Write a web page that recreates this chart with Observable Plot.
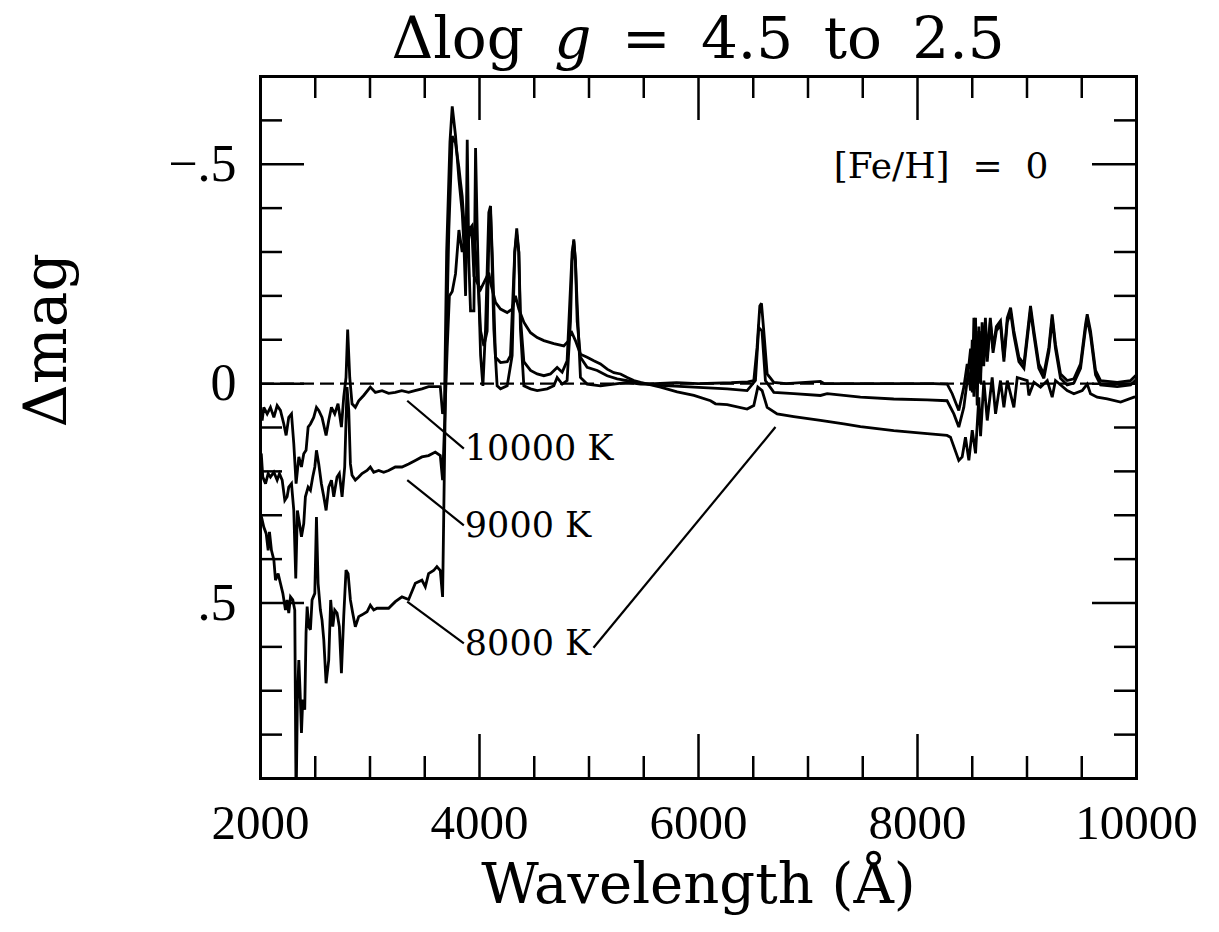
<!DOCTYPE html>
<html><head><meta charset="utf-8">
<script src="https://cdn.jsdelivr.net/npm/d3@7"></script>
<script src="https://cdn.jsdelivr.net/npm/@observablehq/plot@0.6"></script>
<style>
body{margin:0;background:#fff;}
#title{height:57px;padding-top:9px;width:876px;margin-left:260px;text-align:center;font-family:"DejaVu Serif";font-size:58px;line-height:58px;word-spacing:12px;white-space:nowrap;color:#000;}
svg text{white-space:pre;}
</style></head><body>
<div id="title">Δlog <i>g</i> = 4.5 to 2.5</div>
<div id="chart"></div>
<script>
// [wavelength (Å), Δmag]
const t10000 = [[2000,.07],[2015,.084],[2030,.054],[2061,.069],[2091,.054],[2122,.077],[2152,.050],[2182,.061],[2213,.092],[2234,.118],[2258,.077],[2283,.069],[2304,.137],[2325,.228],[2350,.167],[2374,.190],[2395,.160],[2416,.152],[2435,.099],[2456,.092],[2486,.077],[2511,.054],[2532,.061],[2562,.077],[2599,.118],[2623,.084],[2648,.054],[2678,.069],[2708,.046],[2739,.099],[2760,.031],[2781,-.014],[2796,-.123],[2815,-.014],[2836,.046],[2866,.054],[2897,.039],[2942,.027],[3003,.008],[3049,.020],[3110,.016],[3170,.022],[3231,.020],[3290,.016],[3353,.020],[3410,.016],[3474,.012],[3535,.007],[3600,.007],[3642,.007],[3663,.069],[3680,.05],[3700,-.30],[3730,-.55],[3751,-.632],[3781,-.565],[3812,-.466],[3842,-.39],[3858,-.314],[3873,-.20],[3888,-.556],[3903,-.276],[3918,-.166],[3949,-.166],[3964,-.537],[3979,-.352],[3994,-.20],[4010,-.064],[4031,.005],[4055,-.124],[4085,-.39],[4101,-.405],[4131,-.124],[4161,.005],[4192,.012],[4253,.005],[4298,-.064],[4322,-.30],[4340,-.354],[4359,-.30],[4374,-.124],[4405,.005],[4466,.012],[4527,.016],[4618,.012],[4679,.005],[4709,-.014],[4755,.001],[4800,-.007],[4831,-.143],[4846,-.28],[4861,-.329],[4876,-.28],[4892,-.18],[4922,-.014],[4983,.001],[5105,.005],[5227,.001],[5349,-.003],[5470,.001],[5600,.000],[5800,-.002],[6000,.000],[6300,-.002],[6450,-.004],[6505,-.007],[6535,-.083],[6560,-.177],[6575,-.183],[6596,-.12],[6627,-.022],[6688,-.003],[6800,.000],[7114,-.005],[7150,.000],[7500,.000],[8000,.000],[8150,.000],[8271,.001],[8317,.023],[8377,.061],[8423,.008],[8454,-.045],[8485,.016],[8500,-.10],[8515,.03],[8530,-.15],[8545,.05],[8560,-.12],[8576,.0],[8590,-.14],[8605,-.05],[8620,-.15],[8637,-.06],[8665,-.15],[8690,-.08],[8720,-.13],[8758,-.143],[8789,-.06],[8820,-.15],[8850,-.173],[8880,-.12],[8926,-.06],[8972,-.045],[9032,-.177],[9063,-.12],[9108,-.045],[9154,-.022],[9200,-.083],[9230,-.158],[9260,-.09],[9306,-.022],[9367,-.007],[9428,-.011],[9489,-.045],[9535,-.136],[9550,-.158],[9580,-.12],[9626,-.03],[9672,-.007],[9824,-.003],[9946,-.007],[10000,-.02]];

const t9000 = [[2000,.17],[2009,.167],[2021,.213],[2046,.228],[2070,.205],[2091,.213],[2122,.202],[2152,.220],[2173,.205],[2198,.220],[2222,.266],[2243,.258],[2258,.236],[2283,.228],[2304,.289],[2322,.444],[2337,.289],[2356,.319],[2374,.349],[2395,.319],[2410,.258],[2435,.236],[2456,.243],[2477,.213],[2496,.190],[2511,.152],[2532,.183],[2556,.228],[2578,.258],[2599,.289],[2623,.236],[2648,.220],[2669,.258],[2699,.213],[2720,.205],[2745,.258],[2769,.190],[2790,.008],[2806,.061],[2821,.183],[2836,.209],[2866,.220],[2897,.213],[2927,.205],[2973,.198],[3003,.190],[3034,.202],[3079,.198],[3125,.202],[3170,.198],[3231,.190],[3292,.190],[3353,.183],[3414,.175],[3474,.167],[3535,.164],[3596,.156],[3642,.164],[3663,.220],[3680,.10],[3705,-.08],[3725,-.20],[3751,-.21],[3781,-.25],[3812,-.35],[3842,-.30],[3873,-.336],[3903,-.35],[3933,-.36],[3964,-.30],[3994,-.20],[4010,-.12],[4040,-.086],[4070,-.12],[4085,-.33],[4101,-.39],[4116,-.30],[4146,-.06],[4192,-.048],[4253,-.05],[4283,-.064],[4322,-.30],[4340,-.34],[4359,-.30],[4374,-.15],[4405,-.05],[4420,-.045],[4466,-.03],[4527,-.022],[4588,-.018],[4648,-.022],[4709,-.037],[4755,-.026],[4800,-.052],[4831,-.22],[4846,-.30],[4861,-.325],[4876,-.28],[4892,-.142],[4922,-.06],[4983,-.037],[5075,-.03],[5166,-.018],[5257,-.011],[5349,-.007],[5470,.000],[5653,.004],[5958,.008],[6262,.012],[6444,.016],[6520,-.007],[6550,-.128],[6580,-.12],[6611,-.007],[6688,.020],[6870,.023],[7114,.027],[7175,.023],[7479,.031],[7783,.035],[8088,.037],[8270,.039],[8332,.069],[8377,.099],[8423,.054],[8454,-.007],[8485,-.08],[8500,.02],[8515,-.15],[8545,.0],[8560,-.13],[8576,-.02],[8590,-.12],[8605,-.04],[8620,-.14],[8637,-.05],[8665,-.14],[8690,-.07],[8720,-.12],[8758,-.135],[8789,-.05],[8820,-.14],[8850,-.163],[8880,-.11],[8926,-.05],[8972,-.035],[9032,-.167],[9063,-.11],[9108,-.035],[9154,-.012],[9200,-.073],[9230,-.148],[9260,-.08],[9306,-.012],[9367,.003],[9428,-.001],[9489,-.035],[9535,-.126],[9550,-.148],[9580,-.11],[9626,-.02],[9672,.003],[9824,.007],[9946,.003],[10000,-.01]];

const t8000 = [[2000,.30],[2009,.304],[2030,.327],[2052,.342],[2070,.380],[2082,.338],[2100,.380],[2122,.402],[2137,.448],[2161,.433],[2182,.455],[2204,.478],[2228,.516],[2243,.493],[2258,.523],[2274,.486],[2295,.493],[2313,.516],[2325,.96],[2337,.720],[2350,.630],[2362,.705],[2374,.796],[2386,.720],[2404,.743],[2416,.568],[2426,.508],[2441,.554],[2456,.561],[2471,.493],[2496,.478],[2511,.304],[2526,.455],[2547,.516],[2562,.539],[2578,.584],[2599,.683],[2623,.630],[2641,.493],[2660,.554],[2678,.516],[2699,.523],[2720,.554],[2739,.660],[2760,.531],[2781,.425],[2800,.433],[2821,.493],[2842,.523],[2866,.554],[2897,.531],[2927,.527],[2973,.520],[3003,.505],[3034,.516],[3064,.512],[3125,.512],[3170,.512],[3231,.497],[3292,.486],[3353,.492],[3414,.455],[3474,.448],[3505,.463],[3535,.433],[3581,.426],[3611,.417],[3642,.426],[3663,.486],[3690,.0],[3720,-.35],[3751,-.564],[3781,-.548],[3812,-.492],[3827,-.458],[3842,-.427],[3858,-.367],[3873,-.329],[3888,-.306],[3918,-.359],[3933,-.336],[3949,-.245],[3979,-.23],[4010,-.215],[4040,-.23],[4085,-.253],[4101,-.23],[4146,-.185],[4192,-.17],[4253,-.162],[4298,-.17],[4328,-.20],[4359,-.17],[4405,-.14],[4435,-.128],[4466,-.116],[4527,-.105],[4588,-.098],[4679,-.091],[4770,-.086],[4815,-.098],[4837,-.12],[4876,-.098],[4922,-.067],[4983,-.06],[5044,-.052],[5105,-.045],[5166,-.033],[5227,-.025],[5288,-.022],[5349,-.014],[5410,-.007],[5470,-.003],[5653,.008],[5805,.019],[5958,.027],[6110,.039],[6155,.046],[6262,.048],[6444,.058],[6505,.050],[6542,.008],[6581,.016],[6627,.054],[6718,.069],[6870,.075],[7114,.084],[7327,.092],[7479,.098],[7783,.107],[8088,.114],[8270,.118],[8301,.122],[8377,.175],[8408,.167],[8438,.122],[8469,.175],[8500,.106],[8530,.159],[8560,.031],[8576,.12],[8606,-.007],[8637,.084],[8682,-.014],[8713,.069],[8758,-.007],[8789,.054],[8820,-.007],[8880,.054],[8911,-.014],[9002,-.007],[9017,.027],[9063,-.003],[9124,.008],[9185,-.007],[9230,.031],[9260,-.007],[9367,.016],[9428,.023],[9504,.016],[9550,.001],[9580,.023],[9641,.031],[9733,.035],[9855,.042],[9977,.031],[10000,.03]];

// curve labels and leader lines (wavelength, Δmag)
const labelNames = ["10000 K", "9000 K", "8000 K"];
const labelWl = [3857, 3857, 3857];
const labelMag = [0.148, 0.323, 0.592];
const leaders = [[3340,0.039,3857,0.148],[3340,0.220,3857,0.323],[3340,0.497,3857,0.592],[5041,0.602,6703,0.099]];

const xTickLabels = [2000, 4000, 6000, 8000, 10000];
const xMinorTicks = [2500, 3000, 3500, 4500, 5000, 5500, 6500, 7000, 7500, 8500, 9000, 9500];
const yTickValues = [-0.5, 0, 0.5];
const yTickLabels = ["\u2212.5", "0", ".5"];
const yMinorTicks = [-0.6,-0.4,-0.3,-0.2,-0.1,0.1,0.2,0.3,0.4,0.6,0.7,0.8];
const metallicity = "[Fe/H]  =  0";

const toRows = arr => arr.map(([wl, mag]) => ({wl, mag}));
const labels = labelNames.map((name, i) => ({name, wl: labelWl[i], mag: labelMag[i]}));
const leaderRows = leaders.map(([x1,y1,x2,y2]) => ({x1,y1,x2,y2}));

const lineStyle = {x: "wl", y: "mag", stroke: "#000", strokeWidth: 2.8, strokeLinejoin: "miter", strokeMiterlimit: 3, clip: true, curve: "linear"};
const tk = {stroke: "#000", strokeWidth: 2.5};
const FW = 876, FH = 702;

const plot = Plot.plot({
  width: 1219, height: 866,
  marginTop: 10, marginBottom: 154, marginLeft: 260, marginRight: 83,
  x: {domain: [2000, 10000], axis: null},
  y: {domain: [-0.7, 0.9], reverse: true, axis: null},
  style: {background: "#fff", color: "#000"},
  marks: [
    Plot.ruleY([0], {stroke: "#000", strokeWidth: 2.4, strokeDasharray: "14,6"}),
    Plot.line(toRows(t10000), lineStyle),
    Plot.line(toRows(t9000), lineStyle),
    Plot.line(toRows(t8000), lineStyle),
    Plot.link(leaderRows, {x1: "x1", y1: "y1", x2: "x2", y2: "y2", stroke: "#000", strokeWidth: 2.2}),
    Plot.text(labels, {x: "wl", y: "mag", text: "name", textAnchor: "start", lineAnchor: "middle", dx: 1, fontSize: 35, fontFamily: "DejaVu Serif", fill: "#000"}),
    Plot.text([metallicity], {frameAnchor: "top-right", dx: -88, dy: 90, textAnchor: "end", lineAnchor: "middle", fontSize: 36, fontFamily: "DejaVu Serif", fill: "#000"}),
    // ticks (inward, on all four sides)
    Plot.ruleX(xMinorTicks, {...tk, insetTop: FH - 22}),
    Plot.ruleX(xTickLabels, {...tk, insetTop: FH - 44}),
    Plot.ruleX(xMinorTicks, {...tk, insetBottom: FH - 22}),
    Plot.ruleX(xTickLabels, {...tk, insetBottom: FH - 44}),
    Plot.ruleY(yMinorTicks, {...tk, insetRight: FW - 22}),
    Plot.ruleY(yTickValues, {...tk, insetRight: FW - 44}),
    Plot.ruleY(yMinorTicks, {...tk, insetLeft: FW - 22}),
    Plot.ruleY(yTickValues, {...tk, insetLeft: FW - 44}),
    Plot.frame({stroke: "#000", strokeWidth: 3}),
    // tick labels
    Plot.text(xTickLabels, {x: d => d, frameAnchor: "bottom", dy: 60, lineAnchor: "bottom", text: d => String(d), fontSize: 49, fontFamily: "Liberation Serif", fill: "#000"}),
    Plot.text(yTickValues, {y: d => d, frameAnchor: "left", dx: -24, textAnchor: "end", lineAnchor: "middle", text: (d, i) => yTickLabels[i], fontSize: 52, fontFamily: "Liberation Serif", fill: "#000"}),
    // axis titles
    Plot.text(["Wavelength (Å)"], {frameAnchor: "bottom", dy: 124, lineAnchor: "bottom", fontSize: 56, fontFamily: "DejaVu Serif", fill: "#000"}),
    Plot.text(["Δmag"], {frameAnchor: "left", dx: -214, rotate: -90, lineAnchor: "middle", fontSize: 60, fontFamily: "DejaVu Serif", fill: "#000"})
  ]
});
document.getElementById("chart").appendChild(plot);
</script>
</body></html>
